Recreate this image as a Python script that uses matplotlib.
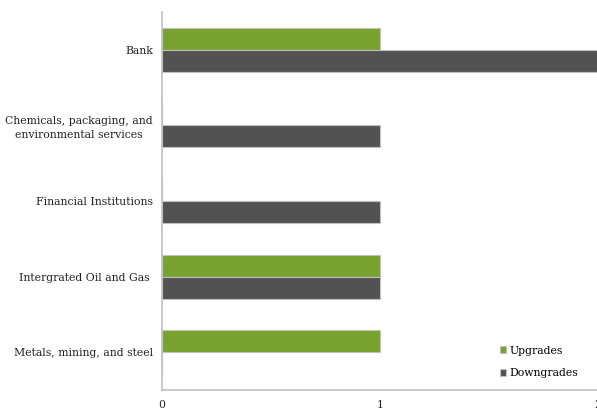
import matplotlib
matplotlib.use("Agg")
import matplotlib.pyplot as plt
import numpy as np

categories = [
    "Bank",
    "Chemicals, packaging, and\nenvironmental services",
    "Financial Institutions",
    "Intergrated Oil and Gas ",
    "Metals, mining, and steel",
]
upgrades = [1, 0, 0, 1, 1]
downgrades = [2, 1, 1, 1, 0]
x_ticks = [0, 1, 2]

green = "#78a22f"
dark = "#525252"
edge = "#c0c0c0"

plt.rcParams["font.family"] = ["DejaVu Serif"]
fs = 7.8

fig = plt.figure(figsize=(5.97, 4.15), dpi=100)
ax = fig.add_axes([162 / 597, 25 / 415, 436 / 597, 378 / 415])

pos = np.arange(len(categories))
h = 0.29
ax.barh(pos - h / 2, upgrades, height=h, color=green, edgecolor=edge,
        linewidth=0.8, label="Upgrades")
ax.barh(pos + h / 2, downgrades, height=h, color=dark, edgecolor=edge,
        linewidth=0.8, label="Downgrades")

ax.set_ylim(len(categories) - 0.5, -0.5)
ax.set_xlim(0, 2)
ax.set_yticks(pos)
ax.set_yticklabels(categories, fontsize=fs, color="#222222",
                   multialignment="center", linespacing=1.5)
ax.set_xticks(x_ticks)
ax.set_xticklabels([str(v) for v in x_ticks], fontsize=fs, color="#222222")
ax.tick_params(axis="both", length=0)
ax.tick_params(axis="y", pad=6.5)
ax.tick_params(axis="x", pad=7.5)

for side in ("top", "right"):
    ax.spines[side].set_visible(False)
for side in ("left", "bottom"):
    ax.spines[side].set_color("#bfbfbf")
    ax.spines[side].set_linewidth(1.2)

ax.legend(loc="upper left", bbox_to_anchor=(0.765, 0.129), frameon=False,
          fontsize=fs, handlelength=0.6, handleheight=0.6,
          handletextpad=0.25, labelspacing=1.15, borderaxespad=0)

fig.savefig("out.png", dpi=100)
